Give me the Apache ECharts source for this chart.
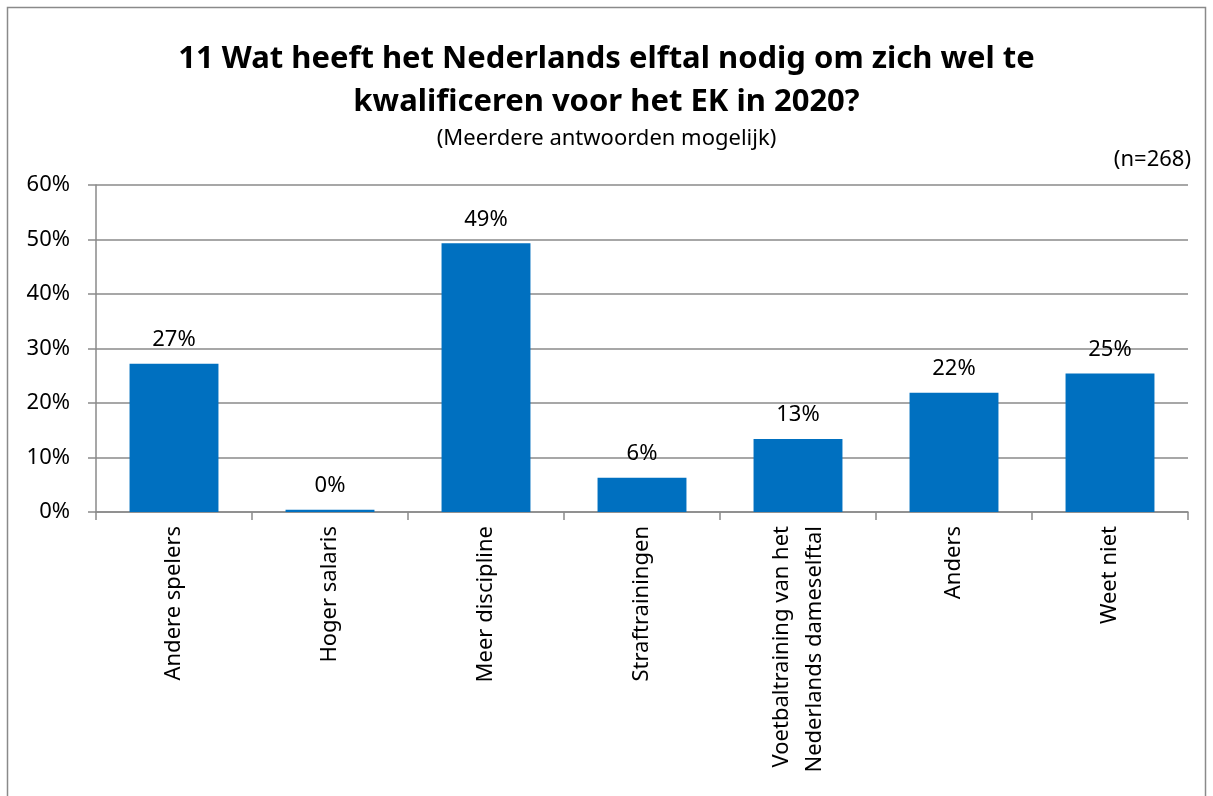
<!DOCTYPE html>
<html><head><meta charset="utf-8">
<script src="https://cdn.jsdelivr.net/npm/echarts@6/dist/echarts.min.js"></script>
<style>html,body{margin:0;padding:0;background:#fff}#c{width:1213px;height:796px}</style>
</head><body><div id="c"></div>
<script>
const categories = ["Andere spelers","Hoger salaris","Meer discipline","Straftrainingen","Voetbaltraining van het\nNederlands dameselftal","Anders","Weet niet"];
const values = [27.2, 0.4, 49.3, 6.3, 13.4, 21.9, 25.4];
const valueLabels = ["27%","0%","49%","6%","13%","22%","25%"];
const yTicks = [0,10,20,30,40,50,60];
const FONT = "Noto Sans";
const chart = echarts.init(document.getElementById('c'));
chart.setOption({
  animation:false,
  backgroundColor:'#fff',
  graphic:[{type:'rect',shape:{x:7.5,y:7.5,width:1198,height:800},style:{fill:'none',stroke:'#8a8a8a',lineWidth:1.5}}],
  title:[
    {text:'11 Wat heeft het Nederlands elftal nodig om zich wel te\nkwalificeren voor het EK in 2020?',left:'center',top:33,
     textStyle:{fontFamily:FONT,fontSize:31,fontWeight:'bold',color:'#000',lineHeight:43}},
    {text:'(Meerdere antwoorden mogelijk)',left:'center',top:123,textStyle:{fontFamily:FONT,fontSize:22,fontWeight:'normal',color:'#000'}},
    {text:'(n=268)',right:17,top:144,textStyle:{fontFamily:FONT,fontSize:22,fontWeight:'normal',color:'#000'}}
  ],
  grid:{left:96,right:25,top:185,bottom:284,containLabel:false},
  xAxis:{type:'category',data:categories,
    axisLine:{lineStyle:{color:'#8a8a8a',width:1.5}},
    axisTick:{show:true,length:8,lineStyle:{color:'#8a8a8a',width:1.5}},
    axisLabel:{rotate:90,interval:0,margin:14,fontFamily:FONT,fontSize:22,color:'#000',lineHeight:33}},
  yAxis:{type:'value',min:0,max:60,interval:10,
    axisLine:{show:true,lineStyle:{color:'#8a8a8a',width:1.5}},
    axisTick:{show:true,length:8,lineStyle:{color:'#8a8a8a',width:1.5}},
    splitLine:{lineStyle:{color:'#8a8a8a',width:1.5}},
    axisLabel:{margin:26,fontFamily:FONT,fontSize:22,color:'#000',formatter:v=>yTicks.includes(v)?v+'%':''}},
  series:[{type:'bar',data:values,barWidth:'57%',itemStyle:{color:'#0070C0'},
    label:{show:true,position:'top',distance:13,fontFamily:FONT,fontSize:22,color:'#000',
      formatter:p=>valueLabels[p.dataIndex]}}]
});
</script></body></html>
